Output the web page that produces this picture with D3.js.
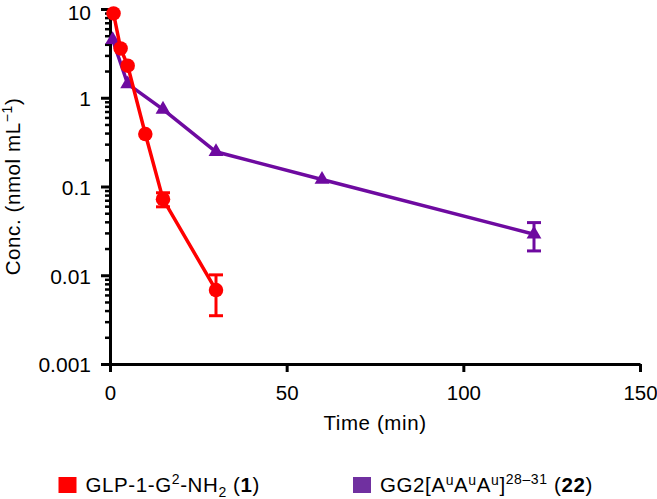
<!DOCTYPE html>
<html><head><meta charset="utf-8">
<script src="https://cdn.jsdelivr.net/npm/d3@7"></script>
<style>
body{margin:0;background:#fff;}
svg{display:block;}
text{font-family:"Liberation Sans",Arial,Helvetica,sans-serif;}
</style></head>
<body><svg id="chart" width="657" height="499"></svg>
<script>
// Data
const redTime = [1, 3, 5, 10, 15, 30];
const redConc = [8.9, 3.6, 2.3, 0.39, 0.072, 0.0068];
const redSem  = [0, 0, 0, 0, 0.013, 0.0033];
const purTime = [0.75, 5, 15, 30, 60, 120];
const purConc = [4.5, 1.43, 0.74, 0.246, 0.12, 0.029];
const purSem  = [0, 0, 0, 0, 0, 0.0102];
const yTicks = [0.001, 0.01, 0.1, 1, 10];
const yTickLabels = ["0.001", "0.01", "0.1", "1", "10"];
const xTicks = [0, 50, 100, 150];

const RED = "#ff0000", PUR = "#6e0aa0", PUR_LEG = "#7030a0";
const FS = 20.5, LS = 0.6;

const svg = d3.select("#chart");
const x = d3.scaleLinear().domain([0, 150]).range([110, 640]);
const y = d3.scaleLog().domain([0.001, 10]).range([364, 9]);

// Y axis: minor ticks
const minor = [];
for (let d = 0.001; d < 10; d *= 10) for (let k = 2; k <= 9; k++) minor.push(+(d * k).toPrecision(3));
const gyMinor = svg.append("g").attr("transform", `translate(${x(0)},0)`)
  .call(d3.axisLeft(y).tickValues(minor).tickSize(5).tickSizeOuter(0).tickFormat(""));
gyMinor.select(".domain").remove();
gyMinor.selectAll(".tick line").attr("stroke", "#000").attr("stroke-width", 2.5);

const gy = svg.append("g").attr("transform", `translate(${x(0)},0)`)
  .call(d3.axisLeft(y).tickValues(yTicks).tickSize(9).tickSizeOuter(0).tickPadding(10)
    .tickFormat((d, i) => yTickLabels[i]));
gy.select(".domain").attr("stroke", "#000").attr("stroke-width", 3);
gy.selectAll(".tick line").attr("stroke", "#000").attr("stroke-width", 3);
gy.selectAll(".tick text").attr("fill", "#000").style("font-size", "21px")
  .attr("dy", d => d === 10 ? "10.5px" : "0.37em");

// X axis
const gx = svg.append("g").attr("transform", `translate(0,${y(0.001)})`)
  .call(d3.axisBottom(x).tickValues(xTicks).tickSize(8).tickSizeOuter(0).tickPadding(13).tickFormat(d3.format("d")));
gx.select(".domain").attr("stroke", "#000").attr("stroke-width", 3);
gx.selectAll(".tick line").attr("stroke", "#000").attr("stroke-width", 3);
gx.selectAll(".tick text").attr("fill", "#000").style("font-size", FS + "px");

// Axis titles
svg.append("text").attr("x", (x(0) + x(150)) / 2).attr("y", 430).attr("text-anchor", "middle")
  .style("font-size", FS + "px").style("letter-spacing", LS + "px").text("Time (min)");
const yl = svg.append("text").attr("transform", `translate(19.5,${(y(0.001) + y(10)) / 2}) rotate(-90)`)
  .attr("text-anchor", "middle").style("font-size", FS + "px").style("letter-spacing", LS + "px");
yl.append("tspan").text("Conc. (nmol mL");
yl.append("tspan").attr("dy", -8).style("font-size", "14px").text("−1");
yl.append("tspan").attr("dy", 8).text(")");

// Series drawing
function series(times, conc, sem, color, symbol, size) {
  const g = svg.append("g");
  const pts = times.map((t, i) => ({t, c: conc[i], s: sem[i]}));
  pts.filter(p => p.s > 0).forEach(p => {
    const xx = x(p.t), y1 = y(p.c + p.s), y0 = y(p.c - p.s);
    g.append("line").attr("x1", xx).attr("x2", xx).attr("y1", y1).attr("y2", y0).attr("stroke", color).attr("stroke-width", 3);
    [y1, y0].forEach(yy => g.append("line").attr("x1", xx - 7).attr("x2", xx + 7).attr("y1", yy).attr("y2", yy)
      .attr("stroke", color).attr("stroke-width", 3));
  });
  g.append("path").datum(pts)
    .attr("d", d3.line().x(p => x(p.t)).y(p => y(p.c)))
    .attr("fill", "none").attr("stroke", color).attr("stroke-width", 3.5);
  g.selectAll("path.m").data(pts).enter().append("path").attr("class", "m")
    .attr("transform", p => `translate(${x(p.t)},${y(p.c)})`)
    .attr("d", d3.symbol().type(symbol).size(size))
    .attr("fill", color);
}
series(purTime, purConc, purSem, PUR, d3.symbolTriangle, 95);
series(redTime, redConc, redSem, RED, d3.symbolCircle, 165);

// Legend
function legendItem(xs, color, build) {
  svg.append("rect").attr("x", xs).attr("y", 477).attr("width", 18).attr("height", 16).attr("fill", color);
  const t = svg.append("text").attr("x", xs + 27).attr("y", 492).style("font-size", FS + "px").style("letter-spacing", LS + "px");
  build(t);
}
legendItem(58.5, RED, t => {
  t.append("tspan").text("GLP-1-G");
  t.append("tspan").attr("dy", -8).style("font-size", "14px").text("2");
  t.append("tspan").attr("dy", 8).text("-NH");
  t.append("tspan").attr("dy", 5).style("font-size", "14px").text("2");
  t.append("tspan").attr("dy", -5).text(" (");
  t.append("tspan").style("font-weight", "bold").text("1");
  t.append("tspan").text(")");
});
legendItem(353, PUR_LEG, t => {
  t.append("tspan").text("GG2[A");
  t.append("tspan").attr("dy", -7).style("font-size", "14px").text("u");
  t.append("tspan").attr("dy", 7).text("A");
  t.append("tspan").attr("dy", -7).style("font-size", "14px").text("u");
  t.append("tspan").attr("dy", 7).text("A");
  t.append("tspan").attr("dy", -7).style("font-size", "14px").text("u");
  t.append("tspan").attr("dy", 7).text("]");
  t.append("tspan").attr("dy", -8).style("font-size", "14px").text("28–31");
  t.append("tspan").attr("dy", 8).text(" (");
  t.append("tspan").style("font-weight", "bold").text("22");
  t.append("tspan").text(")");
});
</script></body></html>
